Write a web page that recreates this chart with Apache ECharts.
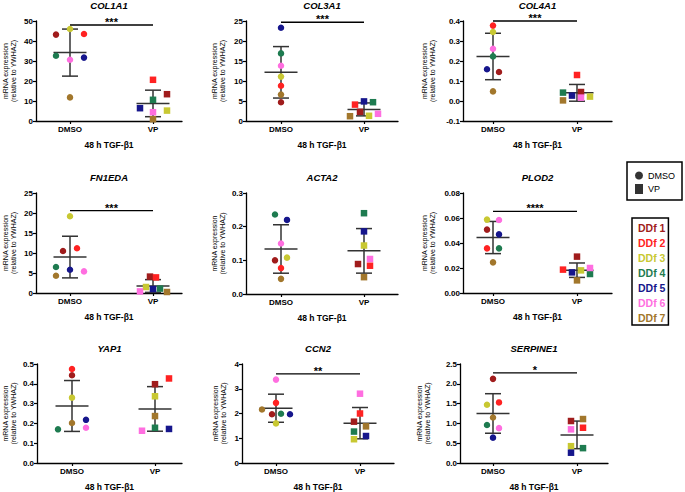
<!DOCTYPE html>
<html>
<head>
<meta charset="utf-8">
<script src="https://cdn.jsdelivr.net/npm/echarts@6/dist/echarts.min.js"></script>
<style>
html,body{margin:0;padding:0;background:#fff;}
#chart{width:685px;height:492px;}
</style>
</head>
<body>
<div id="chart"></div>
<script>
// ---------- DATA ----------
const genes = ['COL1A1', 'COL3A1', 'COL4A1', 'FN1EDA', 'ACTA2', 'PLOD2', 'YAP1', 'CCN2', 'SERPINE1'];
const groups = ['DMSO', 'VP'];
const donors = ['DDf 1', 'DDf 2', 'DDf 3', 'DDf 4', 'DDf 5', 'DDf 6', 'DDf 7'];

// values ordered DDf 1 ... DDf 7
const col1a1Dmso = [43.2, 43.5, 46.0, 32.6, 31.7, 30.6, 11.8];
const col1a1Vp = [13.4, 20.6, 5.2, 10.6, 6.4, 4.4, 0.9];
const col3a1Dmso = [4.7, 8.8, 11.1, 16.9, 23.3, 13.8, 6.6];
const col3a1Vp = [2.3, 4.1, 1.3, 4.7, 4.9, 1.8, 1.2];
const col4a1Dmso = [0.145, 0.377, 0.345, 0.223, 0.159, 0.261, 0.048];
const col4a1Vp = [0.045, 0.130, 0.022, 0.042, 0.027, 0.017, 0.003];
const fn1edaDmso = [10.5, 11.2, 19.2, 6.5, 5.8, 5.4, 4.3];
const fn1edaVp = [4.1, 3.9, 1.5, 1.1, 1.0, 0.4, 0.25];
const acta2Dmso = [0.100, 0.077, 0.108, 0.236, 0.220, 0.150, 0.045];
const acta2Vp = [0.089, 0.084, 0.144, 0.240, 0.186, 0.104, 0.050];
const plod2Dmso = [0.0507, 0.0357, 0.0587, 0.0357, 0.0469, 0.0584, 0.0245];
const plod2Vp = [0.0291, 0.0187, 0.0181, 0.0152, 0.0165, 0.0200, 0.0101];
const yap1Dmso = [0.443, 0.475, 0.330, 0.170, 0.218, 0.178, 0.202];
const yap1Vp = [0.398, 0.427, 0.337, 0.178, 0.172, 0.163, 0.237];
const ccn2Dmso = [1.97, 2.43, 1.60, 1.99, 1.97, 3.37, 2.16];
const ccn2Vp = [1.67, 2.00, 0.96, 1.27, 1.09, 2.80, 1.48];
const serpine1Dmso = [2.125, 1.53, 1.47, 0.96, 0.64, 0.88, 1.15];
const serpine1Vp = [1.06, 0.89, 0.425, 0.375, 0.26, 0.85, 1.11];

// significance bars (value level) and labels
const sigLevels = [48, 24.7, 0.40, 20.6, null, 0.0653, null, 3.6, 2.275];
const sigLabels = ['***', '***', '***', '***', '', '****', '', '**', '*'];

// y axis tick settings
const yMins = [0, 0, -0.1, 0, 0, 0, 0, 0, 0];
const yMaxs = [50, 25, 0.4, 25, 0.3, 0.08, 0.5, 4, 2.5];
const yIntervals = [10, 5, 0.1, 5, 0.1, 0.02, 0.1, 1, 0.5];
const yDecimals = [0, 0, 1, 0, 1, 2, 1, 0, 1];

// ---------- STYLE / LAYOUT ----------
const donorColors = ['#a01c1c', '#ff2222', '#c8c832', '#1e7b50', '#16168c', '#ff6ee0', '#a2772c'];
// [axisLeft, axisRight, dmsoX, vpX, top, bottom] in px
const panelLayout = [
  [36, 182, 70, 153, 21, 121],
  [246, 398, 281, 364, 21, 121],
  [463, 612, 493, 577, 21, 121],
  [36, 182, 70, 153, 193, 293],
  [246, 398, 281, 364, 193, 294],
  [463, 612, 493, 577, 193, 293],
  [37, 182, 72, 155, 364, 464],
  [242, 394, 276, 360, 364, 464],
  [460, 608, 493, 577, 364, 464]
];
const yNameGaps = [19, 20, 27, 19, 20, 27, 20, 15, 29];
// horizontal jitter of points (px), DDf 1..7
const jitterDmso = [
  [-14, 14, 0, -14, 14, 0, 0],
  [0, 0, 0, 0, 0, 0, 0],
  [6, 0, 0, 0, -6, 0, 0],
  [-7, 7, 0, -14, 0, 14, -14],
  [-6, 0, 6, -6, 6, 0, 0],
  [-6, -6, -6, 6, 6, 6, 0],
  [0, 0, 0, -14, 14, 14, 0],
  [-4, 0, 0, 5, 14, 0, -14],
  [0, 6, -6, -6, 0, 6, 0]
];
const jitterVp = [
  [14, 0, 14, 0, -13, 0, 0],
  [-4, -9, 5, 9, 0, 14, -14],
  [4, 0, 13, -14, -5, 4, -14],
  [-3, 3, -7, 7, 0, -13, 14],
  [-6, 6, 0, 0, 0, 6, 0],
  [0, -14, 4, 13, -5, 13, 0],
  [0, 14, 0, 0, 14, -13, 0],
  [-6, 0, -6, -6, 6, 0, 6],
  [-6, 6, -6, 6, -6, -6, 6]
];

const dmsoSets = [col1a1Dmso, col3a1Dmso, col4a1Dmso, fn1edaDmso, acta2Dmso, plod2Dmso, yap1Dmso, ccn2Dmso, serpine1Dmso];
const vpSets = [col1a1Vp, col3a1Vp, col4a1Vp, fn1edaVp, acta2Vp, plod2Vp, yap1Vp, ccn2Vp, serpine1Vp];

const FONT = 'Liberation Sans, Arial, sans-serif';
const BAR = '#333333';

function mean(a) { return a.reduce((s, v) => s + v, 0) / a.length; }
function sd(a) { const m = mean(a); return Math.sqrt(a.reduce((s, v) => s + (v - m) * (v - m), 0) / (a.length - 1)); }

const grids = [], xAxes = [], yAxes = [], titles = [], series = [];

genes.forEach((g, i) => {
  const [L, R, dx, vx, T, B] = panelLayout[i];
  const step = vx - dx;
  grids.push({ left: L, top: T, width: R - L, height: B - T, containLabel: false });
  xAxes.push({
    gridIndex: i, type: 'value',
    min: -(dx - L) / step, max: 1 + (R - vx) / step,
    axisLine: { show: true, onZero: false, lineStyle: { color: '#000', width: 1.3 } },
    axisTick: { show: true, customValues: [0, 1], length: 3, lineStyle: { color: '#000', width: 1.2 } },
    axisLabel: { customValues: [0, 1], formatter: v => groups[Math.round(v)], fontSize: 8, fontWeight: 'bold', color: '#000', margin: 4, fontFamily: FONT },
    splitLine: { show: false },
    name: '48 h TGF-\u03b21', nameLocation: 'middle', nameGap: 19,
    nameTextStyle: { fontSize: 8.5, fontWeight: 'bold', color: '#000', fontFamily: FONT }
  });
  yAxes.push({
    gridIndex: i, type: 'value',
    min: yMins[i], max: yMaxs[i], interval: yIntervals[i],
    axisLine: { show: true, onZero: false, lineStyle: { color: '#000', width: 1.3 } },
    axisTick: { show: true, length: 3, lineStyle: { color: '#000', width: 1.2 } },
    axisLabel: { formatter: v => Number(v).toFixed(yDecimals[i]), fontSize: 8, fontWeight: 'bold', color: '#000', margin: 3, fontFamily: FONT },
    splitLine: { show: false },
    name: 'mRNA expression\n(relative to YWHAZ)', nameLocation: 'middle', nameRotate: 90, nameGap: yNameGaps[i],
    nameTextStyle: { fontSize: 7, lineHeight: 8, color: '#000', fontFamily: FONT }
  });
  titles.push({
    text: g, left: (L + R) / 2, top: T - 21, textAlign: 'center', padding: 0,
    textStyle: { fontSize: 9.5, fontStyle: 'italic', fontWeight: 'bold', color: '#000', fontFamily: FONT }
  });

  const dm = dmsoSets[i], vp = vpSets[i];
  // mean ± SD bars
  series.push({
    type: 'custom', xAxisIndex: i, yAxisIndex: i, z: 1, silent: true, clip: false,
    data: [[0, mean(dm), sd(dm)], [1, mean(vp), sd(vp)]],
    renderItem: (params, api) => {
      const x = api.value(0), m = api.value(1), s = api.value(2);
      const c = api.coord([x, m]), t = api.coord([x, m + s]), b = api.coord([x, m - s]);
      const st = { stroke: BAR, lineWidth: 1.5 };
      return { type: 'group', children: [
        { type: 'line', shape: { x1: c[0] - 16.5, y1: c[1], x2: c[0] + 16.5, y2: c[1] }, style: st },
        { type: 'line', shape: { x1: t[0], y1: t[1], x2: b[0], y2: b[1] }, style: st },
        { type: 'line', shape: { x1: t[0] - 8, y1: t[1], x2: t[0] + 8, y2: t[1] }, style: st },
        { type: 'line', shape: { x1: b[0] - 8, y1: b[1], x2: b[0] + 8, y2: b[1] }, style: st }
      ] };
    }
  });
  // significance
  if (sigLevels[i] !== null) {
    series.push({
      type: 'custom', xAxisIndex: i, yAxisIndex: i, z: 1, silent: true, clip: false,
      data: [[0, sigLevels[i], 1]],
      renderItem: (params, api) => {
        const lv = api.value(1);
        const a = api.coord([0, lv]), b = api.coord([1, lv]);
        return { type: 'group', children: [
          { type: 'line', shape: { x1: a[0], y1: a[1], x2: b[0], y2: b[1] }, style: { stroke: '#000', lineWidth: 1.4 } },
          { type: 'text', x: (a[0] + b[0]) / 2, y: a[1] - 3,
            style: { text: sigLabels[i], align: 'center', verticalAlign: 'middle', fontSize: 11, fontWeight: 'bold', fontFamily: FONT, fill: '#000' } }
        ] };
      }
    });
  }
  // points
  donors.forEach((d, k) => {
    series.push({
      type: 'scatter', name: d, xAxisIndex: i, yAxisIndex: i, z: 3,
      symbolSize: 6.5, silent: true,
      itemStyle: { color: donorColors[k], opacity: 1 },
      emphasis: { disabled: true },
      data: [
        { value: [0, dm[k]], symbol: 'circle', symbolOffset: [jitterDmso[i][k], 0] },
        { value: [1, vp[k]], symbol: 'rect', symbolOffset: [jitterVp[i][k], 0] }
      ]
    });
  });
});

// series only for the treatment legend
series.push({ type: 'scatter', name: 'DMSO', xAxisIndex: 0, yAxisIndex: 0, data: [], symbol: 'circle', itemStyle: { color: '#000' } });
series.push({ type: 'scatter', name: 'VP', xAxisIndex: 0, yAxisIndex: 0, data: [], symbol: 'rect', itemStyle: { color: '#000' } });

const option = {
  backgroundColor: '#fff',
  animation: false,
  textStyle: { fontFamily: FONT },
  title: titles,
  grid: grids,
  xAxis: xAxes,
  yAxis: yAxes,
  legend: [
    {
      data: groups, orient: 'vertical', left: 627, top: 162,
      padding: [9, 7, 6, 8], itemGap: 4, itemWidth: 8, itemHeight: 10,
      borderColor: '#000', borderWidth: 1.5, selectedMode: false,
      textStyle: { fontSize: 9, color: '#000', fontFamily: FONT }
    },
    {
      data: donors.map((d, k) => ({ name: d, textStyle: { color: donorColors[k] } })),
      orient: 'vertical', left: 632, top: 218, icon: 'none',
      padding: [4, 3, 2, 1], itemGap: 4, itemWidth: 0, itemHeight: 11,
      borderColor: '#000', borderWidth: 1.5, selectedMode: false,
      textStyle: { fontSize: 10.5, fontWeight: 'bold', fontFamily: FONT }
    }
  ],
  series: series
};

const chart = echarts.init(document.getElementById('chart'), null, { renderer: 'svg' });
chart.setOption(option);
</script>
</body>
</html>
